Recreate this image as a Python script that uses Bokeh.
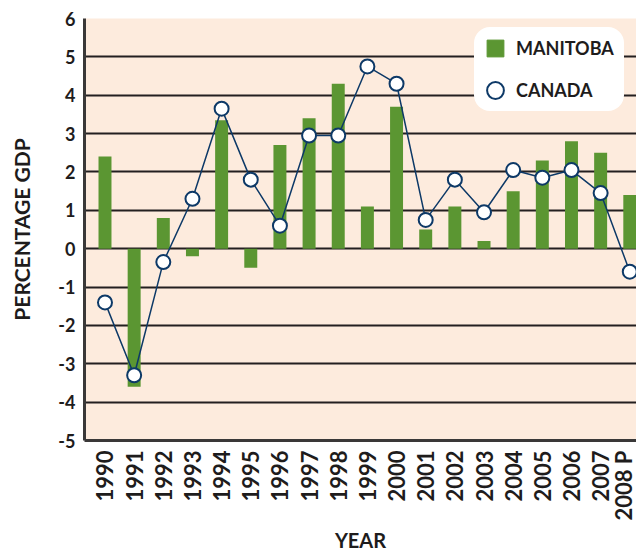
import math
from bokeh.plotting import figure
from bokeh.models import Range1d, FixedTicker, Legend, LegendItem, ColumnDataSource
from bokeh.embed import file_html
from bokeh.resources import INLINE

# ---- data ----
years = ["1990", "1991", "1992", "1993", "1994", "1995", "1996", "1997", "1998", "1999",
         "2000", "2001", "2002", "2003", "2004", "2005", "2006", "2007", "2008 P"]
manitoba = [2.4, -3.6, 0.8, -0.2, 3.35, -0.5, 2.7, 3.4, 4.3, 1.1,
            3.7, 0.5, 1.1, 0.2, 1.5, 2.3, 2.8, 2.5, 1.4]
canada = [-1.4, -3.3, -0.35, 1.3, 3.65, 1.8, 0.6, 2.95, 2.95, 4.75,
          4.3, 0.75, 1.8, 0.95, 2.05, 1.85, 2.05, 1.45, -0.6]
y_ticks = [-5, -4, -3, -2, -1, 0, 1, 2, 3, 4, 5, 6]
y_tick_labels = ["-5", "-4", "-3", "-2", "-1", "0", "1", "2", "3", "4", "5", "6"]
series_names = ["MANITOBA", "CANADA"]
x_title = "YEAR"
y_title = "PERCENTAGE GDP"

GREEN = "#5b9632"
NAVY = "#0d3967"
INK = "#1e1c1c"
FONT = "Lato"

idx = list(range(len(years)))
src = ColumnDataSource(dict(x=idx, man=manitoba, can=canada, year=years))

p = figure(width=636, height=554, output_backend="svg", toolbar_location=None,
           x_range=Range1d(-0.703, 18.23), y_range=Range1d(-5, 6),
           min_border_left=84, min_border_top=18, min_border_right=0,
           min_border_bottom=113)
p.background_fill_color = "#fdebdd"
p.border_fill_color = "white"
p.outline_line_color = None

p.vbar(x="x", top="man", bottom=0, width=0.445, source=src,
       fill_color=GREEN, line_color=None)
p.line(x="x", y="can", source=src, line_color=NAVY, line_width=1.5)
circ = p.scatter(x="x", y="can", source=src, marker="circle", size=14,
                 fill_color="white", line_color=NAVY, line_width=2)
# legend proxy (not drawn on the plot: NaN position)
man_leg = p.scatter(x=[float("nan")], y=[float("nan")], marker="square",
                    fill_color=GREEN, line_color=GREEN)

# axes
p.xaxis.ticker = FixedTicker(ticks=idx)
p.xaxis.major_label_overrides = {i: y for i, y in zip(idx, years)}
p.xaxis.major_label_orientation = math.pi / 2
p.yaxis.ticker = FixedTicker(ticks=y_ticks)
p.yaxis.major_label_overrides = {t: l for t, l in zip(y_ticks, y_tick_labels)}

for ax in (p.xaxis[0], p.yaxis[0]):
    ax.axis_line_color = "#3a3838"
    ax.axis_line_width = 3
    ax.major_tick_line_color = None
    ax.minor_tick_line_color = None
    ax.major_tick_out = 0
    ax.major_tick_in = 0
    ax.major_label_text_font = FONT
    ax.major_label_text_font_style = "bold"
    ax.major_label_text_color = INK
    ax.axis_label_text_font = FONT
    ax.axis_label_text_font_style = "bold"
    ax.axis_label_text_color = INK

p.xaxis.major_label_text_font_size = "22px"
p.xaxis.major_label_standoff = 10
p.xaxis.axis_label = x_title
p.xaxis.axis_label_text_font_size = "20px"
p.xaxis.axis_label_standoff = 4

p.yaxis.major_label_text_font_size = "18px"
p.yaxis.major_label_standoff = 9
p.yaxis.axis_label = y_title
p.yaxis.axis_label_text_font_size = "21px"
p.yaxis.axis_label_standoff = 21

p.xgrid.grid_line_color = None
p.ygrid.ticker = FixedTicker(ticks=y_ticks)
p.ygrid.grid_line_color = "#231f20"
p.ygrid.grid_line_width = 2

legend = Legend(items=[LegendItem(label=series_names[0], renderers=[man_leg]),
                       LegendItem(label=series_names[1], renderers=[circ])],
                location=(390, 329), glyph_width=42, glyph_height=42, spacing=-9,
                padding=2, label_width=108, label_standoff=0,
                label_text_font=FONT, label_text_font_style="bold",
                label_text_font_size="18px", label_text_color=INK,
                background_fill_color="white", background_fill_alpha=1.0,
                border_line_color=None, margin=0)
if "border_radius" in Legend.properties():
    legend.border_radius = 16
p.add_layout(legend, "center")

open("out.html", "w").write(file_html(p, INLINE))
